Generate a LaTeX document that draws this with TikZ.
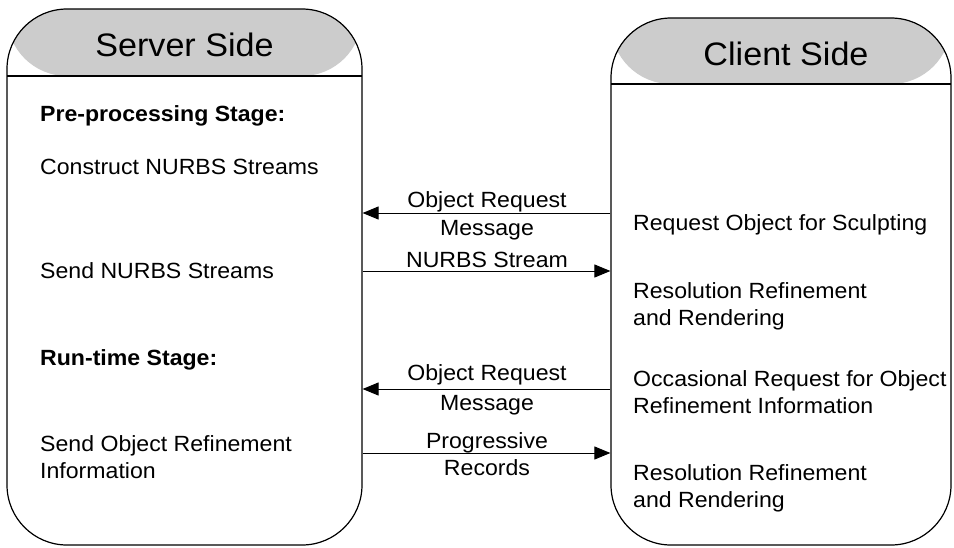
\documentclass[tikz,border=0pt]{standalone}
\usepackage{fontspec}
\setmainfont[FakeStretch=1.05]{Liberation Sans}
\usetikzlibrary{arrows.meta}
\def\bodysize{\fontsize{22}{27}\selectfont}
\tikzset{
  side/.style={draw, line width=1.2pt, rounded corners=60pt, inner sep=0pt,
    path picture={
      \fill[black!20] (path picture bounding box.north west) rectangle ([yshift=-#1]path picture bounding box.north east);
      \draw[line width=1.2pt] ([yshift=-#1]path picture bounding box.north west) -- ([yshift=-#1]path picture bounding box.north east);
    }},
  title/.style={anchor=base, inner sep=0pt, font=\fontsize{32.5}{40}\selectfont},
  item/.style={anchor=base west, align=left, inner sep=0pt, font=\bodysize},
  stage/.style={item, font=\bodysize\bfseries},
  note/.style={anchor=base, inner sep=0pt, font=\bodysize},
  msg/.style={line width=1pt, -{Triangle[length=16pt,width=13pt]}}
}
\begin{document}
\begin{tikzpicture}[x=1pt,y=-1pt]
\useasboundingbox (0,0) rectangle (954,547);
% the two sides
\node[side=67pt, minimum width=355pt, minimum height=536pt] (server) at (184.5,277) {};
\node[side=66pt, minimum width=340pt, minimum height=527pt] (client) at (781,281.5) {};
\node[title] (servertitle) at (184.5,56.5) {Server Side};
\node[title] (clienttitle) at (786,65) {Client Side};
% server side (base = last line)
\node[stage] (prestage) at (40,121) {Pre-processing Stage:};
\node[item] (construct) at (40,174) {Construct NURBS Streams};
\node[item] (sendstreams) at (40,278) {Send NURBS Streams};
\node[stage] (runstage) at (40,365) {Run-time Stage:};
\node[item] (sendrefine) at (40,478) {Send Object Refinement\\Information};
% client side
\node[item] (reqobject) at (633,230) {Request Object for Sculpting};
\node[item] (render1) at (633,325) {Resolution Refinement\\and Rendering};
\node[item] (occasional) at (633,413) {Occasional Request for Object\\Refinement Information};
\node[item] (render2) at (633,507) {Resolution Refinement\\and Rendering};
% messages
\coordinate (m1) at (487,213);
\coordinate (m2) at (487,271);
\coordinate (m3) at (487,389);
\coordinate (m4) at (487,453);
\draw[msg] (client.west |- m1) -- (server.east |- m1);
\draw[msg] (server.east |- m2) -- (client.west |- m2);
\draw[msg] (client.west |- m3) -- (server.east |- m3);
\draw[msg] (server.east |- m4) -- (client.west |- m4);
\node[note] (req1a) at (487,207) {Object Request};
\node[note] (req1b) at (487,235) {Message};
\node[note] (stream) at (487,267) {NURBS Stream};
\node[note] (req2a) at (487,380) {Object Request};
\node[note] (req2b) at (487,410) {Message};
\node[note] (prog1) at (487,448) {Progressive};
\node[note] (prog2) at (487,475) {Records};
\end{tikzpicture}
\end{document}
